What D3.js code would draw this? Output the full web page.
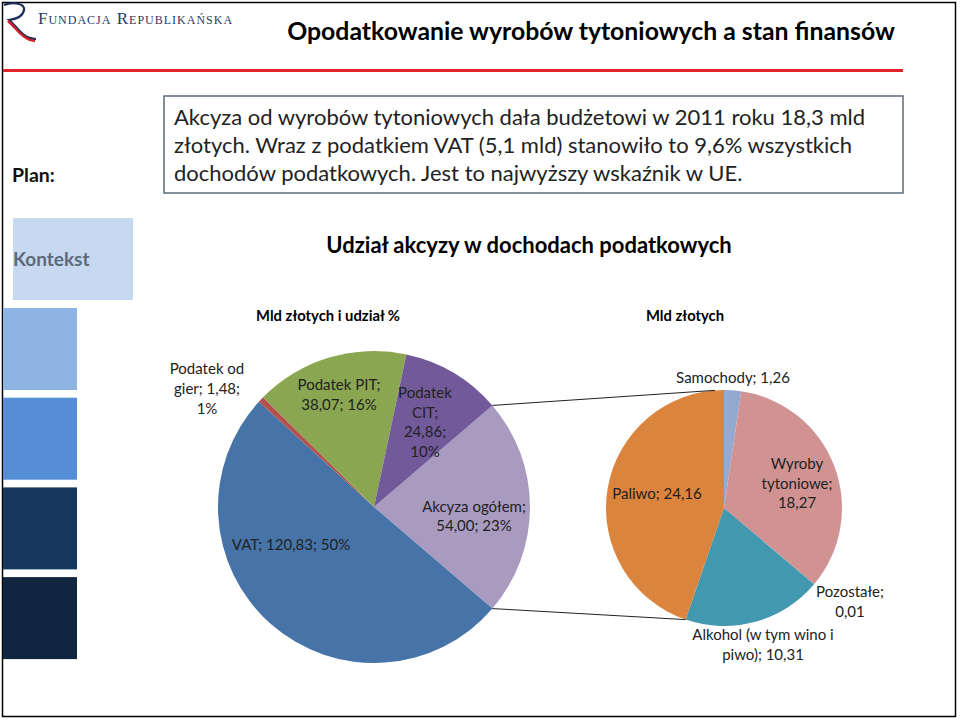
<!DOCTYPE html>
<html>
<head>
<meta charset="UTF-8">
<style>
  body { margin: 0; background: #fff; }
  svg text { font-family: Lato, "Open Sans", sans-serif; }
</style>
</head>
<body>
<svg id="chart"></svg>
<script src="https://d3js.org/d3.v7.min.js"></script>
<script>
// main pie: tax income (mld zł), order as drawn clockwise starting from the split slice
let mainNames = ["Akcyza ogółem", "VAT", "Podatek od gier", "Podatek PIT", "Podatek CIT"];
let mainValues = [54.00, 120.83, 1.48, 38.07, 24.86];
let mainPct = ["23%", "50%", "1%", "16%", "10%"];
let mainColors = ["#a99bc0", "#4673a8", "#b4504d", "#8aa650", "#72599a"];

// secondary pie: excise split (mld zł)
let subNames = ["Samochody", "Wyroby tytoniowe", "Pozostałe", "Alkohol (w tym wino i piwo)", "Paliwo"];
let subValues = [1.26, 18.27, 0.01, 10.31, 24.16];
let subColors = ["#93a9d0", "#d19392", "#b9cd96", "#4198af", "#db843d"];

let boxLines = [
    "Akcyza od wyrobów tytoniowych dała budżetowi w 2011 roku 18,3 mld",
    "złotych. Wraz z podatkiem VAT (5,1 mld) stanowiło to 9,6% wszystkich",
    "dochodów podatkowych. Jest to najwyższy wskaźnik w UE."
];
let sideColors = ["#8eb4e3", "#558ed5", "#17375e", "#10253f"];

let width = 960, height = 720;
let svg = d3.select("#chart").attr("width", width).attr("height", height);

// slide frame
svg.append("rect").attr("x", 2.5).attr("y", 2.5).attr("width", 953).attr("height", 714)
    .attr("fill", "none").attr("stroke", "#000").attr("stroke-width", 1.5);

// logo
let logo = svg.append("g");
logo.append("path")
    .attr("d", "M4,5 C14,1 25,4 24,10 C23,16 16,19 9,20 C14,24 18,30 24,35 C28,38 32,39 36,39")
    .attr("fill", "none").attr("stroke", "#1f2d5c").attr("stroke-width", 2.2);
logo.append("path")
    .attr("d", "M8,21 C15,27 19,34 26,38 C29,40 32,41 35,41")
    .attr("fill", "none").attr("stroke", "#d2232a").attr("stroke-width", 2.5);
logo.append("text").attr("x", 38).attr("y", 24)
    .style("font-family", "'Liberation Serif', serif").style("font-size", "17px")
    .style("font-variant", "small-caps").style("letter-spacing", "1px")
    .attr("fill", "#2b3a6b").text("Fundacja  Republikańska");

// title and red rule
svg.append("text").attr("x", 591).attr("y", 40).attr("text-anchor", "middle")
    .style("font-size", "24.8px").style("font-weight", "bold").attr("fill", "#000")
    .text("Opodatkowanie wyrobów tytoniowych a stan finansów");
svg.append("line").attr("x1", 3).attr("x2", 903).attr("y1", 70.5).attr("y2", 70.5)
    .attr("stroke", "#e2232a").attr("stroke-width", 3);

// plan box
svg.append("text").attr("x", 12).attr("y", 182).style("font-size", "19.5px")
    .style("font-weight", "bold").attr("fill", "#111").text("Plan:");
svg.append("rect").attr("x", 164).attr("y", 96).attr("width", 739).attr("height", 97)
    .attr("fill", "#fff").attr("stroke", "#5c6a7a").attr("stroke-width", 1.5);
svg.append("g").selectAll("text").data(boxLines).enter().append("text")
    .attr("x", 174).attr("y", (d, i) => 125 + i * 28)
    .style("font-size", "22px").attr("fill", "#222").text(d => d);

// side navigation
svg.append("rect").attr("x", 13).attr("y", 218).attr("width", 120).attr("height", 82).attr("fill", "#c6d9f1");
svg.append("text").attr("x", 13).attr("y", 266).style("font-size", "19px")
    .style("font-weight", "bold").attr("fill", "#5d6a79").text("Kontekst");
svg.append("g").selectAll("rect").data(sideColors).enter().append("rect")
    .attr("x", 3).attr("y", (d, i) => 308 + i * 89.7).attr("width", 74).attr("height", 82)
    .attr("fill", d => d);

// chart titles
svg.append("text").attr("x", 529).attr("y", 253).attr("text-anchor", "middle")
    .style("font-size", "22px").style("font-weight", "bold").text("Udział akcyzy w dochodach podatkowych");
svg.append("text").attr("x", 328).attr("y", 321).attr("text-anchor", "middle")
    .style("font-size", "14.8px").style("font-weight", "bold").text("Mld złotych i udział %");
svg.append("text").attr("x", 685).attr("y", 321).attr("text-anchor", "middle")
    .style("font-size", "14.8px").style("font-weight", "bold").text("Mld złotych");

// main pie
let mainCx = 374, mainCy = 507, mainR = 156;
let total = d3.sum(mainValues);
let splitHalf = Math.PI * mainValues[0] / total;
let mainPie = d3.pie().sort(null)
    .startAngle(Math.PI / 2 - splitHalf).endAngle(Math.PI / 2 - splitHalf + 2 * Math.PI);
let mainArcs = mainPie(mainValues);
let arcMain = d3.arc().innerRadius(0).outerRadius(mainR);
let gMain = svg.append("g").attr("transform", `translate(${mainCx},${mainCy})`);
gMain.selectAll("path").data(mainArcs).enter().append("path")
    .attr("d", arcMain).attr("fill", (d, i) => mainColors[i]);

// secondary pie
let subCx = 724, subCy = 508, subR = 118;
let subPie = d3.pie().sort(null);
let subArcs = subPie(subValues);
let arcSub = d3.arc().innerRadius(0).outerRadius(subR);
let gSub = svg.append("g").attr("transform", `translate(${subCx},${subCy})`);
gSub.selectAll("path").data(subArcs).enter().append("path")
    .attr("d", arcSub).attr("fill", (d, i) => subColors[i]);

// connector lines between the split slice and the secondary pie
let pt = (cx, cy, r, a) => [cx + r * Math.sin(a), cy - r * Math.cos(a)];
let a0 = mainArcs[0].startAngle, a1 = mainArcs[0].endAngle;
let topA = -0.077, botA = subArcs[3].endAngle;
[[pt(mainCx, mainCy, mainR, a0), pt(subCx, subCy, subR, topA)],
 [pt(mainCx, mainCy, mainR, a1), pt(subCx, subCy, subR, botA)]].forEach(p => {
    svg.append("line").attr("x1", p[0][0]).attr("y1", p[0][1])
        .attr("x2", p[1][0]).attr("y2", p[1][1])
        .attr("stroke", "#222").attr("stroke-width", 1);
});

// data labels
function fmt(v) { return v.toFixed(2).replace(".", ","); }
function multiLabel(lines, x, y, lh) {
    svg.append("g").selectAll("text").data(lines).enter().append("text")
        .attr("x", x).attr("y", (d, i) => y + i * lh).attr("text-anchor", "middle")
        .style("font-size", "15px").attr("fill", "#222").text(d => d);
}
multiLabel(["Podatek od", "gier; " + fmt(mainValues[2]) + ";", mainPct[2]], 207, 374, 20);
multiLabel(["Podatek PIT;", fmt(mainValues[3]) + "; " + mainPct[3]], 339, 390, 20);
multiLabel(["Podatek", "CIT;", fmt(mainValues[4]) + ";", mainPct[4]], 425, 398, 19.5);
multiLabel(["Akcyza ogółem;", fmt(mainValues[0]) + "; " + mainPct[0]], 474, 512, 19);
multiLabel(["VAT; " + fmt(mainValues[1]) + "; " + mainPct[1]], 291, 550, 20);

multiLabel(["Samochody; " + fmt(subValues[0])], 733, 383, 20);
multiLabel(["Wyroby", "tytoniowe;", fmt(subValues[1])], 797, 469, 19.5);
multiLabel(["Paliwo; " + fmt(subValues[4])], 657, 499, 20);
multiLabel(["Pozostałe;", fmt(subValues[2])], 850, 597, 20);
multiLabel(["Alkohol (w tym wino i", "piwo); " + fmt(subValues[3])], 763, 640, 20);
</script>
</body>
</html>
